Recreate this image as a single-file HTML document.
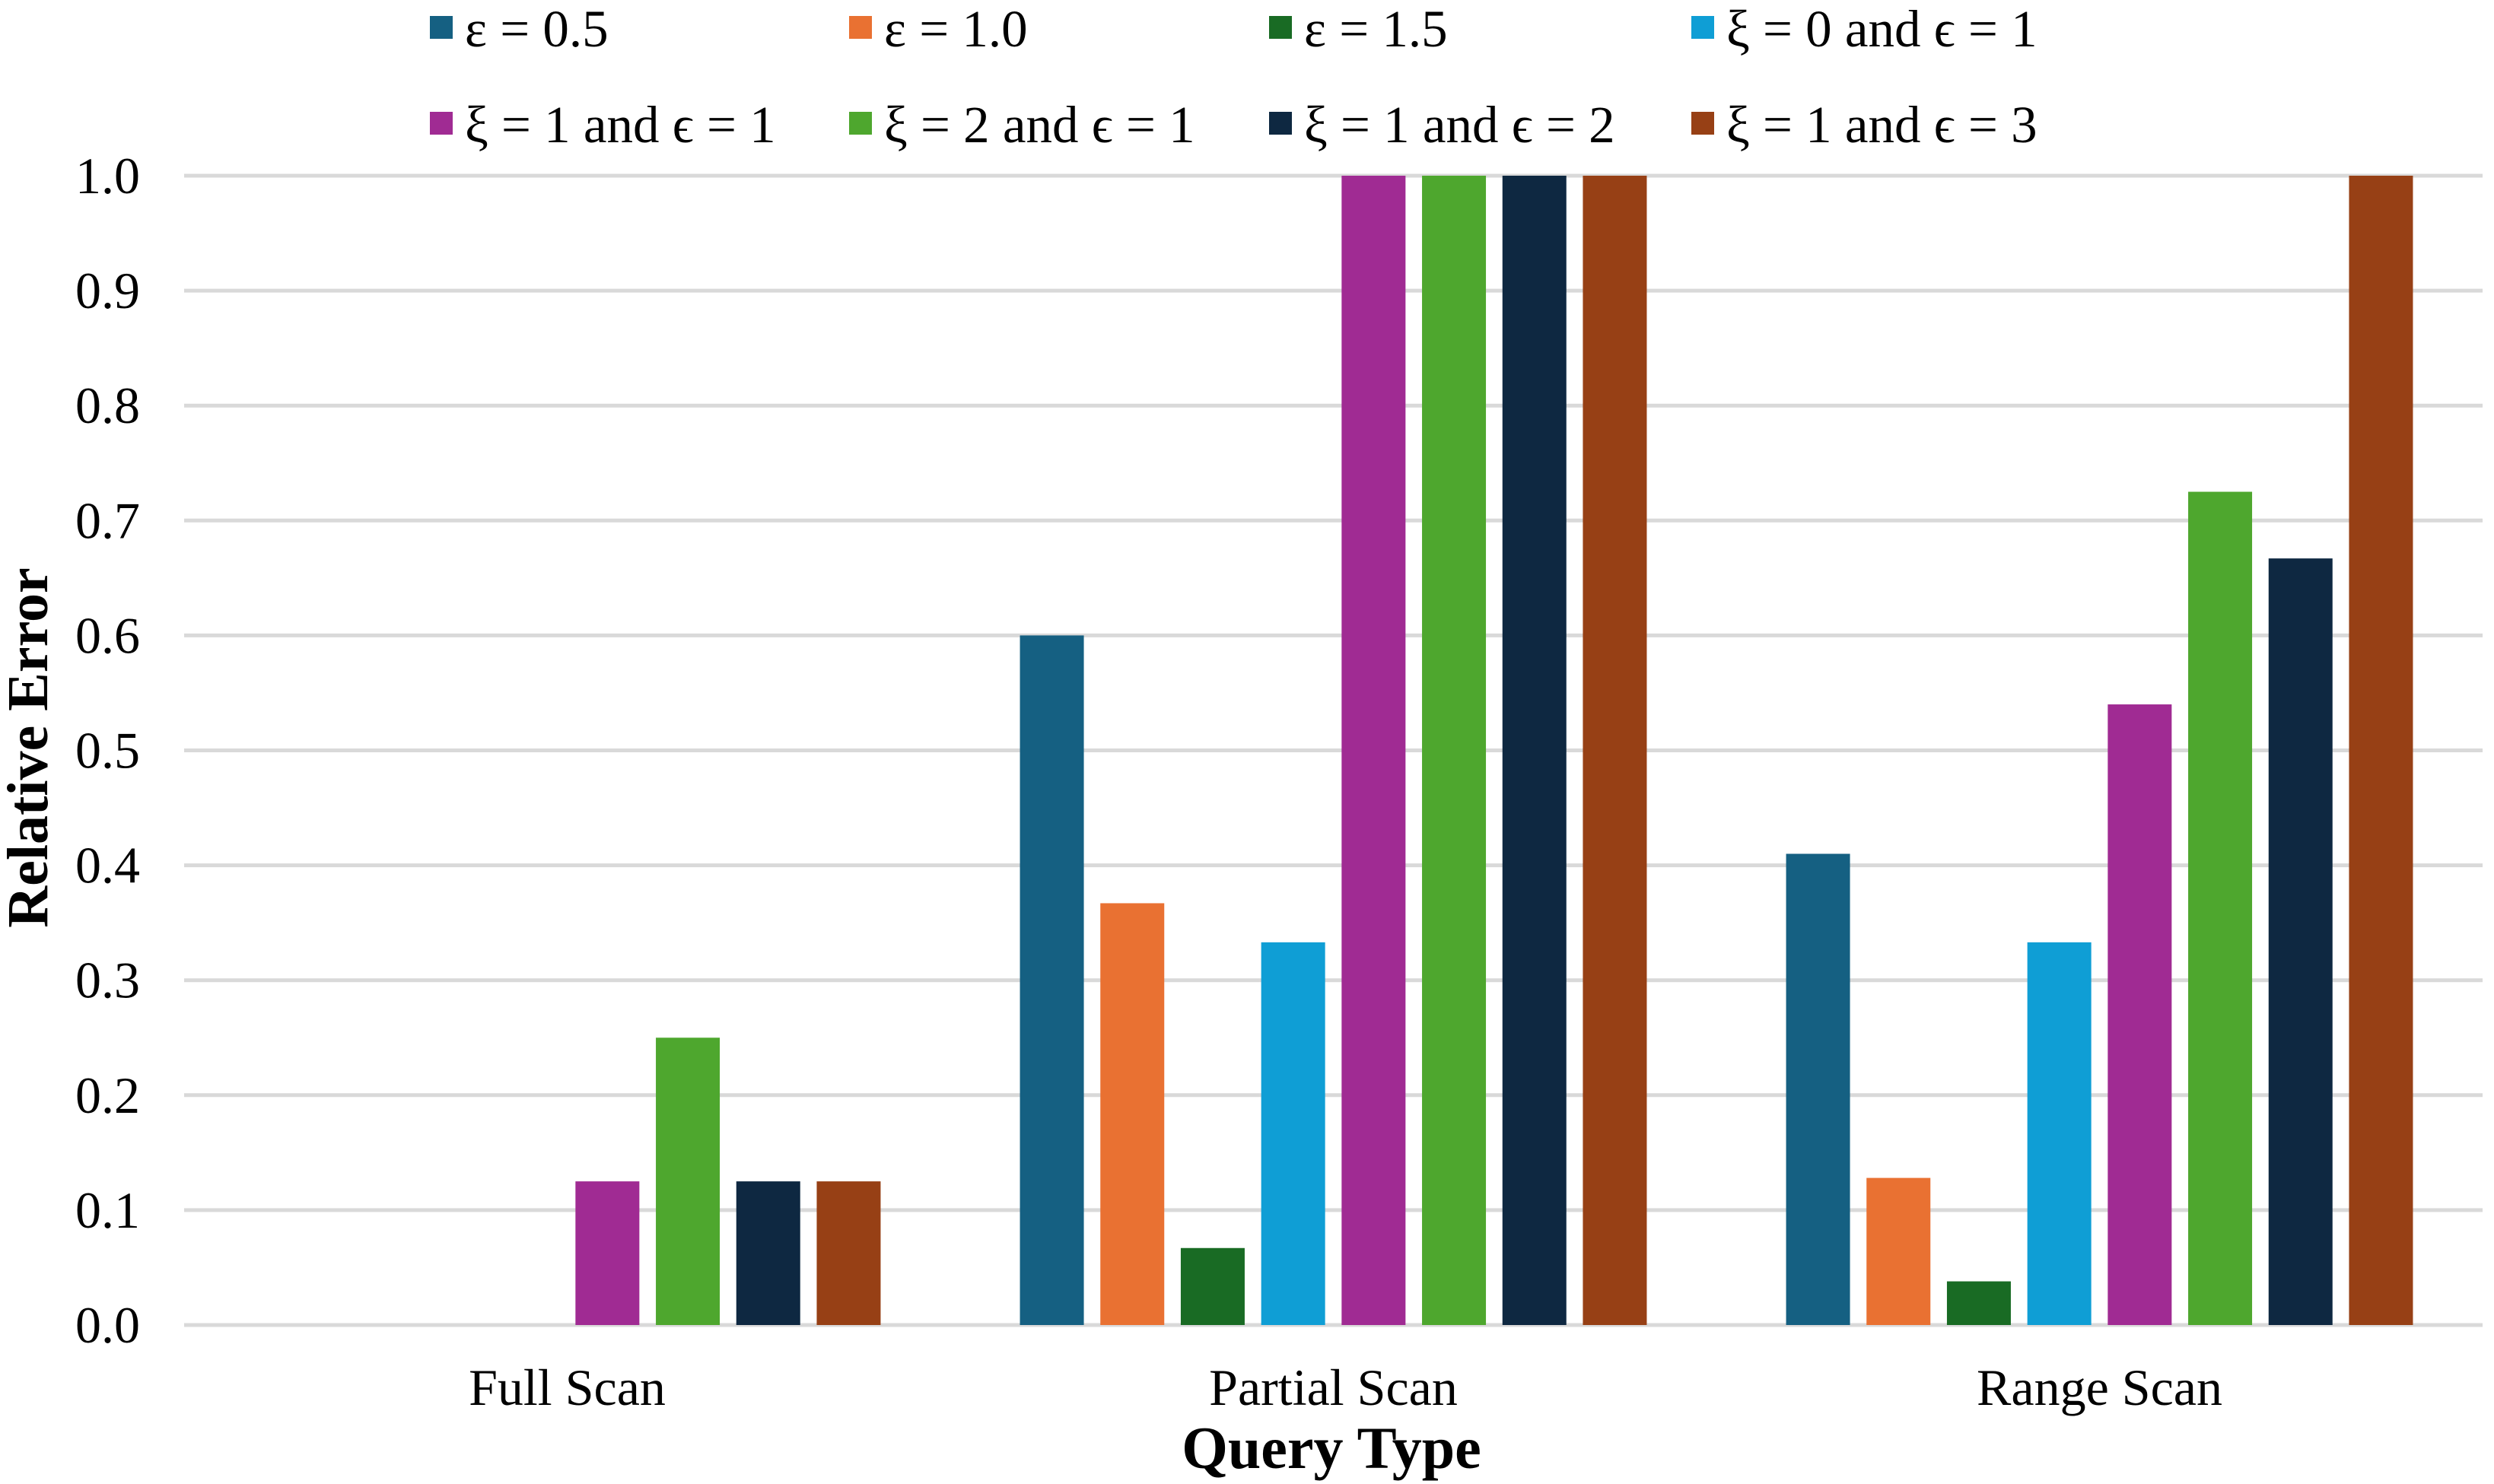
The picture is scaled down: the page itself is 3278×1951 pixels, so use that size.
<!DOCTYPE html>
<html><head><meta charset="utf-8"><style>
html,body{margin:0;padding:0;background:#fff;}
svg{display:block;}
svg text{font-family:"Liberation Serif",serif;}
</style></head><body>
<svg id="chart" width="3278" height="1951" viewBox="0 0 3278 1951" xmlns="http://www.w3.org/2000/svg">
<g id="grid"></g><g id="bars"></g><g id="labels"></g><g id="legend"></g>
<text x="0" y="0" transform="translate(62,983) rotate(-90)" text-anchor="middle" font-size="76" font-weight="bold">Relative Error</text>
<text x="1750" y="1930" text-anchor="middle" font-size="78" font-weight="bold">Query Type</text>
</svg>
<script>
const categories = ["Full Scan","Partial Scan","Range Scan"];
const seriesNames = ["ε = 0.5","ε = 1.0","ε = 1.5","ξ = 0 and ϵ = 1","ξ = 1 and ϵ = 1","ξ = 2 and ϵ = 1","ξ = 1 and ϵ = 2","ξ = 1 and ϵ = 3"];
const s1 = [0, 0.6, 0.41];
const s2 = [0, 0.367, 0.128];
const s3 = [0, 0.067, 0.038];
const s4 = [0, 0.333, 0.333];
const s5 = [0.125, 1.0, 0.54];
const s6 = [0.25, 1.0, 0.725];
const s7 = [0.125, 1.0, 0.667];
const s8 = [0.125, 1.0, 1.0];
const series = [s1,s2,s3,s4,s5,s6,s7,s8];
const colors = ["#156082","#E97132","#196B24","#0F9ED5","#A02B93","#4EA72E","#0E2841","#974015"];
const yTicks = ["0.0","0.1","0.2","0.3","0.4","0.5","0.6","0.7","0.8","0.9","1.0"];

const NS="http://www.w3.org/2000/svg";
const X0=242, X1=3263, Y0=1742, Y1=231;
const groupW=(X1-X0)/categories.length;
const pitch=105.7, barW=84;
function y(v){return Y0-(Y0-Y1)*v;}
function gx(i){return X0+groupW*(i+0.5);}
function mk(tag,attrs,parent){const e=document.createElementNS(NS,tag);for(const k in attrs)e.setAttribute(k,attrs[k]);parent.appendChild(e);return e;}
const grid=document.getElementById('grid'),bars=document.getElementById('bars'),labels=document.getElementById('labels'),legend=document.getElementById('legend');
yTicks.forEach((t)=>{const v=parseFloat(t);
 const l=mk('line',{x1:X0,x2:X1,y1:y(v),y2:y(v),stroke:'#d9d9d9','stroke-width':5},grid);
 
 
 const tx=mk('text',{x:184,y:y(v)+23,'text-anchor':'end','font-size':68},labels);tx.textContent=t;
 
 
});
categories.forEach((c,i)=>{
 series.forEach((s,j)=>{const v=s[i]; if(v<=0) return;
  const cx=gx(i)+(j-3.5)*pitch;
  const r=mk('rect',{x:cx-barW/2,y:y(v),width:barW,height:Y0-y(v),fill:colors[j]},bars);
  
  
 });
 const t=mk('text',{x:gx(i),y:1847,'text-anchor':'middle','font-size':68},labels);t.textContent=c;
 
 
});
const legX=[565,1116,1668,2223], legY=[38,164];
seriesNames.forEach((n,j)=>{const lx=legX[j%4], ly=legY[Math.floor(j/4)];
 const g=mk('g',{},legend);
 
 
 mk('rect',{x:lx,y:ly-17,width:30,height:30,fill:colors[j]},g);
 const t=mk('text',{x:lx+46,y:ly+23,'font-size':69},g);t.textContent=n;
});
</script>
</body></html>
